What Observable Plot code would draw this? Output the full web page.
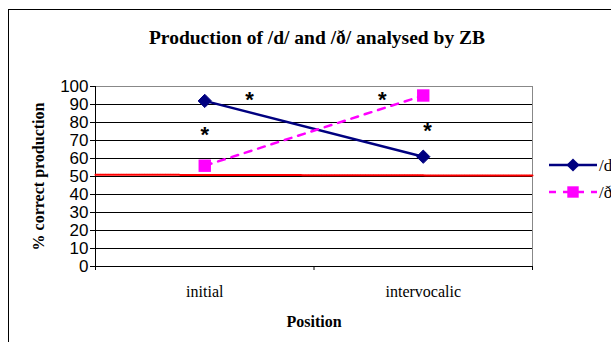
<!DOCTYPE html>
<html><head><meta charset="utf-8">
<script src="https://cdn.jsdelivr.net/npm/d3@7"></script>
<script src="https://cdn.jsdelivr.net/npm/@observablehq/plot@0.6"></script>
<style>
html,body{margin:0;padding:0;background:#fff;overflow:hidden;width:611px;height:342px}
#wrap{position:relative;width:611px;height:342px;overflow:hidden;background:#fff}
#frame{position:absolute;left:8px;top:9px;width:700px;height:400px;border:1px solid #000;box-sizing:border-box}
#chart{position:absolute;left:0;top:0}
#legend{position:absolute;left:0;top:0}
</style></head><body>
<div id="wrap"><div id="frame"></div><div id="chart"></div><svg id="legend" width="611" height="342"></svg></div>
<script>
const titleText = "Production of /d/ and /ð/ analysed by ZB";
const positions = ["initial", "intervocalic"];
const seriesNames = ["/d/", "/ð/"];
const dValues = [92, 61];
const dhValues = [56, 95];
const chanceLevel = [51, 50.5];
const yTicks = [0, 10, 20, 30, 40, 50, 60, 70, 80, 90, 100];
const starX = [0.5, 0.705, 1.313, 1.52];
const starY = [75, 94, 94, 77];

const navy = "#000080", magenta = "#ff00ff";
const serif = "'Liberation Serif', 'Times New Roman', serif";
const sans = "'Liberation Sans', Arial, sans-serif";

const dData = positions.map((p, i) => ({x: i + 0.5, y: dValues[i]}));
const dhData = positions.map((p, i) => ({x: i + 0.5, y: dhValues[i]}));
const chance = chanceLevel.map((v, i) => ({x: i * positions.length, y: v}));
const stars = starX.map((x, i) => ({x, y: starY[i]}));

const chart = Plot.plot({
  width: 611, height: 342,
  marginLeft: 95, marginRight: 79, marginTop: 86, marginBottom: 76,
  x: {domain: [0, positions.length]},
  y: {domain: [0, 100]},
  style: {background: "transparent", overflow: "visible"},
  marks: [
    Plot.ruleY(yTicks.slice(0, -1), {stroke: "#000", strokeWidth: 1}),
    Plot.ruleY([100], {stroke: "#888", strokeWidth: 1}),
    Plot.ruleX([positions.length], {stroke: "#888", strokeWidth: 1}),
    Plot.ruleX([0], {stroke: "#000", strokeWidth: 1}),
    Plot.axisY({ticks: yTicks, tickSize: 5, tickPadding: 2, fontFamily: sans, fontSize: 17, label: null, stroke: "#000", fill: "#000"}),
    Plot.axisX({ticks: [0, 1, 2], tickSize: 4, tickFormat: () => "", label: null}),
    Plot.axisX({ticks: positions.map((p, i) => i + 0.5), tickSize: 0, tickPadding: 19,
      tickFormat: v => positions[Math.floor(v)], fontFamily: serif, fontSize: 16, label: null, fill: "#000"}),
    Plot.line(chance, {x: "x", y: "y", stroke: "#ff0000", strokeWidth: 2, strokeDasharray: "2,0.6"}),
    Plot.line(dData, {x: "x", y: "y", stroke: navy, strokeWidth: 2.5}),
    Plot.line(dhData, {x: "x", y: "y", stroke: magenta, strokeWidth: 2.5, strokeDasharray: "7,7"}),
    Plot.dot(dData, {x: "x", y: "y", symbol: "diamond2", r: 6, fill: navy, stroke: navy, strokeWidth: 1}),
    Plot.dot(dhData, {x: "x", y: "y", symbol: "square", r: 7, fill: magenta, stroke: magenta, strokeWidth: 0}),
    Plot.text(stars, {x: "x", y: "y", text: () => "*", fontFamily: sans, fontWeight: "bold", fontSize: 22, lineAnchor: "middle", dy: 3, fill: "#000"}),
    Plot.text([titleText], {frameAnchor: "top", lineAnchor: "middle", dy: -49, dx: 3, fontFamily: serif, fontWeight: "bold", fontSize: 19.5, fill: "#000"}),
    Plot.text(["% correct production"], {frameAnchor: "left", textAnchor: "middle", rotate: -90, dx: -57, lineAnchor: "middle", fontFamily: serif, fontWeight: "bold", fontSize: 16, fill: "#000"}),
    Plot.text(["Position"], {frameAnchor: "bottom", lineAnchor: "middle", dy: 55, fontFamily: serif, fontWeight: "bold", fontSize: 16, fill: "#000"})
  ]
});
document.getElementById("chart").appendChild(chart);

// Legend
const leg = d3.select("#legend");
const legendItems = [
  {name: seriesNames[0], color: navy, dash: null, symbol: d3.symbolDiamond2, size: 110},
  {name: seriesNames[1], color: magenta, dash: "7,7", symbol: d3.symbolSquare, size: 130}
];
legendItems.forEach((it, i) => {
  const y = 165 + i * 27;
  const g = leg.append("g");
  g.append("line").attr("x1", 549).attr("x2", 597).attr("y1", y).attr("y2", y)
    .attr("stroke", it.color).attr("stroke-width", 2.5).attr("stroke-dasharray", it.dash);
  g.append("path").attr("d", d3.symbol(it.symbol, it.size)()).attr("transform", `translate(573,${y})`).attr("fill", it.color);
  g.append("text").attr("x", 599).attr("y", y).attr("dy", "0.35em").attr("font-family", serif)
    .attr("font-size", 17).text(it.name);
});
</script>
</body></html>
